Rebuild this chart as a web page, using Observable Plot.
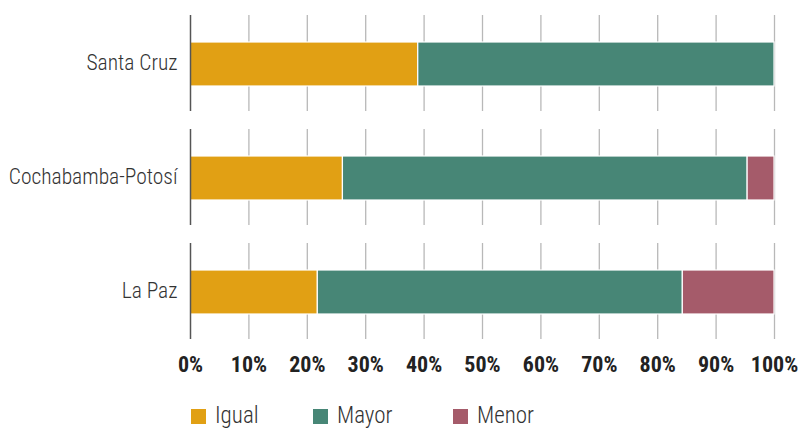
<!DOCTYPE html>
<html>
<head>
<meta charset="utf-8">
<script src="https://cdn.jsdelivr.net/npm/d3@7"></script>
<script src="https://cdn.jsdelivr.net/npm/@observablehq/plot@0.6"></script>
<style>
  body { margin: 0; background: #fff; font-family: Roboto, sans-serif; font-stretch: condensed; overflow: hidden; }
  #chart svg { display: block; font-stretch: condensed; }
  .legend { position: relative; height: 38px; font-family: Roboto, sans-serif; font-stretch: condensed; font-weight: 300; font-size: 23px; line-height: 20px; color: #333; }
  .legend .item { position: absolute; top: 0; height: 20px; display: flex; align-items: center; }
  .legend .sw { width: 15px; height: 15px; margin-right: 9px; }
</style>
</head>
<body>
<div id="chart"></div>
<div class="legend" id="legend"></div>
<script>
const regions = ["Santa Cruz", "Cochabamba-Potosí", "La Paz"];
const categories = ["Igual", "Mayor", "Menor"];
const colors = ["#E1A014", "#478676", "#A55B6A"];
const igual = [39, 26.1, 21.8];
const mayor = [61, 69.3, 62.5];
const menor = [0, 4.6, 15.7];
const xTicks = [0, 10, 20, 30, 40, 50, 60, 70, 80, 90, 100];

const series = [igual, mayor, menor];
const rows = [];
regions.forEach((r, i) => {
  categories.forEach((c, j) => {
    rows.push({region: r, cat: c, value: series[j][i]});
  });
});

const font = 'Roboto, sans-serif';

const chart = Plot.plot({
  width: 801,
  height: 390,
  marginLeft: 190,
  marginRight: 27,
  marginTop: 14,
  marginBottom: 51,
  style: {fontFamily: font, background: "#fff"},
  x: {domain: [0, 100], axis: null},
  fy: {domain: regions, paddingInner: 0.16, paddingOuter: 0, label: null, axis: null},
  color: {domain: categories, range: colors},
  marks: [
    Plot.ruleX(xTicks.slice(1), {stroke: "#b8b8b8", strokeWidth: 1.3}),
    Plot.barX(rows, {x: "value", fy: "region", fill: "cat", stroke: "#fff", strokeWidth: 1.2, insetTop: 27, insetBottom: 25}),
    Plot.ruleX([0], {stroke: "#555", strokeWidth: 1.5}),
    Plot.axisFy({anchor: "left", tickSize: 0, tickPadding: 13, fontSize: 21.5, fontWeight: 300, fill: "#333", label: null}),
    Plot.axisX({ticks: xTicks, tickFormat: d => d + "%", tickSize: 0, tickPadding: 17, fontSize: 22, fontWeight: "bold", fill: "#222", label: null})
  ]
});
chart.querySelectorAll("text").forEach(t => { t.style.fontStretch = "condensed"; });
document.getElementById("chart").appendChild(chart);

const legend = document.getElementById("legend");
const lx = [191, 313, 453];
categories.forEach((c, j) => {
  const it = document.createElement("div");
  it.className = "item";
  it.style.left = lx[j] + "px";
  it.style.top = "16px";
  const sw = document.createElement("span");
  sw.className = "sw";
  sw.style.background = colors[j];
  const tx = document.createElement("span");
  tx.textContent = c;
  it.appendChild(sw);
  it.appendChild(tx);
  legend.appendChild(it);
});
</script>
</body>
</html>
